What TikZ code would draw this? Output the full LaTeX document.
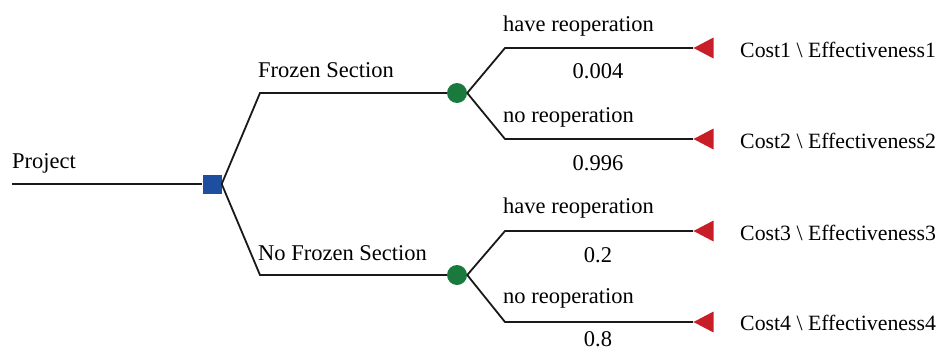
\documentclass[tikz,border=0pt]{standalone}
\usepackage{fontspec}
\setmainfont{Liberation Serif}
\usetikzlibrary{shapes.geometric}
\definecolor{blueD}{RGB}{30,78,160}
\definecolor{greenC}{RGB}{26,122,62}
\definecolor{redT}{RGB}{200,30,40}
\begin{document}
\begin{tikzpicture}[x=1pt,y=-1pt,
 branch/.style={line width=1.8pt, color=black!90},
 lbl/.style={font=\fontsize{22.5}{25}\selectfont, inner sep=0pt, anchor=base west},
 prob/.style={font=\fontsize{22.5}{25}\selectfont, inner sep=0pt, anchor=base},
 outcome/.style={font=\fontsize{21.8}{25}\selectfont, inner sep=0pt, anchor=base west},
 decision/.style={rectangle, fill=blueD, minimum size=19pt, inner sep=0pt},
 chance/.style={circle, fill=greenC, minimum size=20pt, inner sep=0pt},
 term/.style={isosceles triangle, shape border rotate=180, isosceles triangle stretches,
   minimum width=21pt, minimum height=20pt, fill=redT, inner sep=0pt}]
\useasboundingbox (0,0) rectangle (939,351);

\coordinate (start) at (12,184);
\coordinate (k1) at (260,93);
\coordinate (k2) at (260,275);
\coordinate (k11) at (505,48);
\coordinate (k12) at (505,139);
\coordinate (k21) at (505,231);
\coordinate (k22) at (505,322);

\node[decision] (d) at (212,184) {};
\node[chance] (c1) at (457,93) {};
\node[chance] (c2) at (457,275) {};
\node[term, anchor=apex] (t1) at (693,48) {};
\node[term, anchor=apex] (t2) at (693,139) {};
\node[term, anchor=apex] (t3) at (693,231) {};
\node[term, anchor=apex] (t4) at (693,322) {};

\draw[branch] (start) -- (d.west);
\draw[branch] (d.east) -- (k1) -- (c1.west);
\draw[branch] (d.east) -- (k2) -- (c2.west);
\draw[branch] (c1.east) -- (k11) -- (t1.apex);
\draw[branch] (c1.east) -- (k12) -- (t2.apex);
\draw[branch] (c2.east) -- (k21) -- (t3.apex);
\draw[branch] (c2.east) -- (k22) -- (t4.apex);

\node[lbl] (lp) at (12,168) {Project};
\node[lbl] (lfs) at (258,77) {Frozen Section};
\node[lbl] (lnfs) at (258,260) {No Frozen Section};
\node[lbl] (l11) at (503,31) {have reoperation};
\node[prob] (p11) at (598,78) {0.004};
\node[lbl] (l12) at (503,122) {no reoperation};
\node[prob] (p12) at (598,170) {0.996};
\node[lbl] (l21) at (503,213) {have reoperation};
\node[prob] (p21) at (598,262) {0.2};
\node[lbl] (l22) at (503,303) {no reoperation};
\node[prob] (p22) at (598,346) {0.8};
\node[outcome] (e1) at (740,57) {Cost1 \textbackslash\ Effectiveness1};
\node[outcome] (e2) at (740,148) {Cost2 \textbackslash\ Effectiveness2};
\node[outcome] (e3) at (740,240) {Cost3 \textbackslash\ Effectiveness3};
\node[outcome] (e4) at (740,330) {Cost4 \textbackslash\ Effectiveness4};
\end{tikzpicture}
\end{document}
